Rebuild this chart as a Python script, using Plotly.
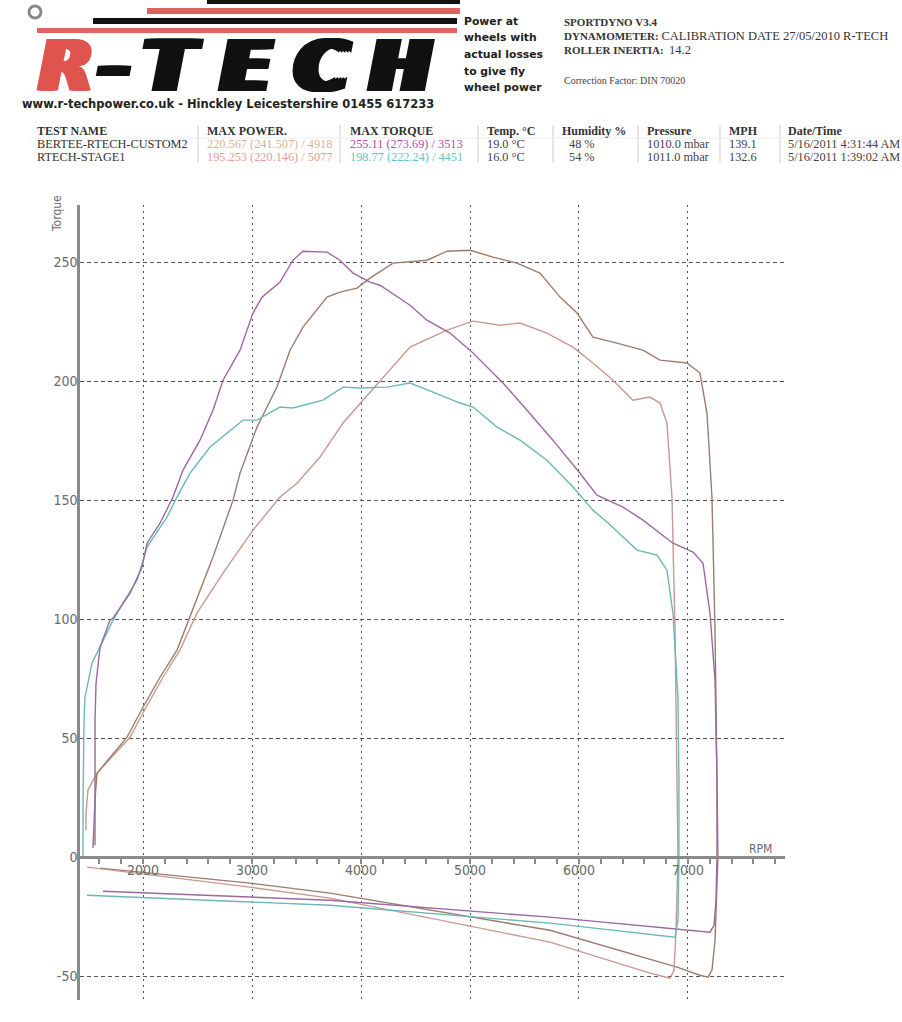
import plotly.graph_objects as go

# ---------------- data ----------------
# BERTEE-RTECH-CUSTOM2 torque (purple)
bt_rpm = [1541, 1560, 1560, 1569, 1606, 1697, 1725, 1881, 1991, 2037, 2156, 2275, 2367, 2523, 2642, 2734,
          2890, 3009, 3092, 3257, 3376, 3468, 3688, 3807, 3927, 4083, 4174, 4450, 4605, 4816, 5028, 5303,
          5523, 5761, 6009, 6165, 6404, 6587, 6862, 7046, 7138, 7202, 7248, 7266, 7266]
bt_val = [3.8, 24.0, 57.6, 73.1, 88.2, 99.6, 100.4, 110.9, 121.8, 131.9, 140.3, 151.3, 162.6, 175.2, 187.8, 200.4,
          213.0, 228.6, 235.3, 241.6, 250.8, 254.6, 254.2, 250.8, 245.4, 241.6, 240.3, 231.9, 225.6, 220.2, 211.8, 199.2,
          187.8, 175.2, 161.3, 152.1, 147.1, 141.6, 131.9, 128.2, 123.5, 102.5, 74.4, 32.4, 0.0]

# BERTEE-RTECH-CUSTOM2 power (brown)
bp_rpm = [1560, 1560, 1578, 1853, 2000, 2156, 2312, 2431, 2642, 2826, 2890, 3046, 3229, 3349, 3468, 3688,
          3807, 3963, 4083, 4294, 4605, 4789, 5000, 5211, 5431, 5642, 5826, 5982, 6128, 6312, 6587, 6743,
          6991, 7110, 7174, 7220, 7248, 7266, 7275]
bp_val = [5.0, 24.0, 35.3, 50.4, 63.0, 75.6, 87.0, 100.8, 126.1, 150.0, 161.3, 180.7, 197.5, 213.0, 222.7, 235.3,
          237.4, 239.1, 243.3, 249.6, 250.8, 254.6, 255.0, 252.1, 249.6, 245.4, 235.3, 228.6, 218.5, 216.4, 213.0, 208.8,
          207.6, 203.4, 186.6, 151.3, 95.4, 32.4, 0.0]

# RTECH-STAGE1 power (pink)
sp_rpm = [1477, 1477, 1495, 1578, 1881, 2028, 2183, 2339, 2477, 2495, 2734, 3009, 3257, 3413, 3624, 3835,
          4018, 4239, 4450, 4789, 5028, 5275, 5459, 5706, 5945, 6128, 6312, 6495, 6651, 6743, 6807, 6853,
          6881, 6899, 6908]
sp_val = [11.3, 18.5, 28.2, 35.3, 50.4, 63.0, 75.6, 87.0, 100.8, 102.5, 119.3, 137.4, 151.3, 157.1, 168.1, 182.4,
          192.0, 203.4, 214.3, 221.4, 225.2, 223.5, 224.4, 220.2, 214.3, 207.6, 200.4, 192.0, 193.3, 190.8, 182.4, 151.3,
          95.4, 32.4, 0.0]

# RTECH-STAGE1 torque (cyan)
st_rpm = [1450, 1450, 1459, 1468, 1532, 1633, 1725, 1817, 1945, 2037, 2220, 2312, 2431, 2615, 2771, 2917,
          3046, 3257, 3376, 3651, 3835, 3991, 4239, 4450, 4661, 4908, 5028, 5248, 5459, 5706, 5945, 6128,
          6257, 6532, 6716, 6807, 6862, 6908, 6917, 6917]
st_val = [0.0, 24.0, 57.6, 67.2, 81.5, 91.2, 99.6, 106.7, 116.4, 130.3, 142.9, 151.3, 161.3, 172.3, 178.2, 183.6,
          183.6, 189.1, 188.7, 192.0, 197.5, 197.1, 197.5, 199.2, 195.4, 190.8, 189.1, 180.7, 175.2, 166.8, 155.5, 145.8,
          140.8, 129.0, 126.9, 120.6, 102.5, 67.2, 32.4, 0.0]

# loss curves (below zero)
bpl_rpm = [1606, 2982, 3716, 5734, 6899, 7110, 7183, 7220, 7248, 7266, 7275]
bpl_val = [-4.6, -10.9, -15.1, -30.7, -46.2, -49.6, -50.4, -47.5, -34.9, -9.7, 0.0]
spl_rpm = [1486, 2982, 3716, 5734, 6651, 6835, 6872, 6890, 6908]
spl_val = [-4.2, -12.6, -17.2, -35.7, -48.7, -50.8, -47.5, -30.7, 0.0]
btl_rpm = [1633, 3716, 5734, 7018, 7202, 7239, 7257, 7266]
btl_val = [-14.3, -18.1, -25.2, -30.7, -31.5, -28.6, -18.1, 0.0]
stl_rpm = [1486, 3716, 5734, 6881, 6908, 6917]
stl_val = [-16.0, -20.2, -27.7, -33.6, -26.5, 0.0]

x_ticks = [2000, 3000, 4000, 5000, 6000, 7000]
y_ticks = [-50, 0, 50, 100, 150, 200, 250]

table_headers = ["TEST NAME", "MAX POWER.", "MAX TORQUE", "Temp. \u00b0C", "Humidity %", "Pressure", "MPH", "Date/Time"]
row1 = ["BERTEE-RTECH-CUSTOM2", "220.567 (241.507) / 4918", "255.11 (273.69) / 3513", "19.0 \u00b0C", "48 %",
        "1010.0 mbar", "139.1", "5/16/2011 4:31:44 AM"]
row2 = ["RTECH-STAGE1", "195.253 (220.146) / 5077", "198.77 (222.24) / 4451", "16.0 \u00b0C", "54 %",
        "1011.0 mbar", "132.6", "5/16/2011 1:39:02 AM"]

# ---------------- styling ----------------
C_PURPLE = "#9a6a9e"
C_BROWN = "#9c7c6e"
C_PINK = "#c99892"
C_CYAN = "#6cb8b5"

W, H = 902, 1022
# plot area in screen pixels
L, RR, T, B = 80, 785, 205, 1000


def px(x):
    return (x - L) / (RR - L)


def py(y):
    return (B - y) / (B - T)


fig = go.Figure()


def add_line(xs, ys, color, width=1.4):
    fig.add_trace(go.Scatter(x=xs, y=ys, mode="lines", line=dict(color=color, width=width),
                             hoverinfo="skip", showlegend=False))


add_line(bpl_rpm, bpl_val, C_BROWN)
add_line(spl_rpm, spl_val, C_PINK)
add_line(btl_rpm, btl_val, C_PURPLE)
add_line(stl_rpm, stl_val, C_CYAN)
add_line(sp_rpm, sp_val, C_PINK)
add_line(bp_rpm, bp_val, C_BROWN)
add_line(st_rpm, st_val, C_CYAN)
add_line(bt_rpm, bt_val, C_PURPLE)

YMIN, YMAX = -60, 274
axis_font = dict(family="DejaVu Sans Condensed, Liberation Sans Narrow, DejaVu Sans, sans-serif", size=14, color="#6a6a6a")

fig.update_layout(
    width=W, height=H,
    margin=dict(l=L, r=W - RR, t=T, b=H - B, pad=0),
    paper_bgcolor="white", plot_bgcolor="white",
    hovermode=False, showlegend=False,
    xaxis=dict(range=[1422, 7890], tickvals=x_ticks, ticktext=[str(v) for v in x_ticks],
               anchor="free", position=(0 - YMIN) / (YMAX - YMIN),
               showline=True, linecolor="#8a8a8a", linewidth=2.5,
               ticks="outside", ticklen=5, tickwidth=1.5, tickcolor="#8a8a8a",
               minor=dict(dtick=200, tick0=0, ticks="outside", ticklen=5, tickwidth=1.5, tickcolor="#8a8a8a", showgrid=False),
               showgrid=True, gridcolor="#555555", gridwidth=1.3, griddash="2px,4px",
               ticklabelstandoff=-6,
               zeroline=False, tickfont=axis_font, fixedrange=True),
    yaxis=dict(range=[YMIN, YMAX], tickvals=y_ticks, ticktext=[str(v) for v in y_ticks],
               showline=True, linecolor="#8a8a8a", linewidth=2.5, ticks="", ticklen=0,
               showgrid=True, gridcolor="#555555", gridwidth=1.3, griddash="4px,3px",
               ticklabelstandoff=-3,
               zeroline=False, tickfont=axis_font, fixedrange=True),
)

ann = []


def text(x, y, s, size=11, color="#222", family="Liberation Serif, Times New Roman, serif", xanchor="left", **kw):
    font = dict(size=size, color=color, family=family)
    font.update(kw.pop("font_extra", {}))
    ann.append(dict(x=px(x), y=py(y), xref="paper", yref="paper", text=s, showarrow=False,
                    xanchor=xanchor, yanchor="middle", font=font, **kw))


# axis titles
text(760, 849, "RPM", size=12, color="#6a6a6a", family=axis_font["family"], xanchor="center")
text(57, 214, "Torque", size=12, color="#6a6a6a", family=axis_font["family"], xanchor="center", textangle=-90)

# logo letters (horizontal text-shadow widens the heavy face)
logo_font = "DejaVu Sans, Liberation Sans, Arial, sans-serif"
letters = [("R", 66, "#e0544e", 2), ("-", 114, "#111111", 3), ("T", 172, "#111111", 3),
           ("E", 246, "#111111", 3), ("C", 322, "#111111", 3), ("H", 400, "#111111", 3)]
for ch, cx, col, sw in letters:
    shadow = ", ".join("%dpx 0 0 %s" % (d, col) for d in (-2 * sw, -sw, sw, 2 * sw))
    text(cx, 66, "<b><i>%s</i></b>" % ch, size=71, color=col, family=logo_font, xanchor="center",
         font_extra=dict(shadow=shadow))

text(20, 104, "<b>www.r-techpower.co.uk - Hinckley Leicestershire 01455 617233</b>", size=11.5,
     color="#222", family="DejaVu Sans, Liberation Sans, Arial, sans-serif")

for s, yy in [("Power at", 21), ("wheels with", 37), ("actual losses", 54), ("to give fly", 71), ("wheel power", 87)]:
    text(462, yy, "<b>%s</b>" % s, size=10.8, color="#222", family="DejaVu Sans, Liberation Sans, Arial, sans-serif")

text(562, 22, "<b>SPORTDYNO V3.4</b>", size=11, color="#333")
text(562, 36, "<b>DYNAMOMETER:</b> <span style='font-size:12.5px'>CALIBRATION DATE 27/05/2010 R-TECH</span>", size=11, color="#333")
text(562, 50, "<b>ROLLER INERTIA:</b>  <span style='font-size:12.5px'>14.2</span>", size=11, color="#333")
text(562, 80, "Correction Factor: DIN 70020", size=10, color="#444")

# table
col_x = [35, 205, 348, 485, 560, 645, 727, 786]
row_x = [35, 205, 348, 485, 567, 645, 727, 786]
for cx, s in zip(col_x, table_headers):
    text(cx, 131, "<b>%s</b>" % s, size=12, color="#333")
row_colors1 = ["#333", "#d4b48e", "#b04fae", "#444", "#444", "#444", "#444", "#444"]
row_colors2 = ["#333", "#e99a96", "#5fc4c4", "#444", "#444", "#444", "#444", "#444"]
for cx, s, c in zip(row_x, row1, row_colors1):
    text(cx, 144, s, size=12.3, color=c)
for cx, s, c in zip(row_x, row2, row_colors2):
    text(cx, 157, s, size=12.3, color=c)

fig.update_layout(annotations=ann)

shapes = []


def prect(x0, y0, x1, y1, color):
    shapes.append(dict(type="rect", xref="paper", yref="paper", x0=px(x0), x1=px(x1), y0=py(y1), y1=py(y0),
                       fillcolor=color, line=dict(width=0), layer="above"))


prect(207, 0, 460, 4, "#111111")
prect(147, 8, 460, 14, "#e0645e")
prect(93, 18, 457, 24, "#111111")
prect(37, 28, 457, 33, "#e0645e")
shapes.append(dict(type="circle", xref="paper", yref="paper", x0=px(29), x1=px(41), y0=py(18), y1=py(6),
                   line=dict(color="#888", width=3), fillcolor="white"))
for sx in [198, 340, 478, 553, 638, 720, 780]:
    shapes.append(dict(type="line", xref="paper", yref="paper", x0=px(sx), x1=px(sx), y0=py(163), y1=py(125),
                       line=dict(color="#cccccc", width=1)))
shapes.append(dict(type="line", xref="paper", yref="paper", x0=px(30), x1=px(900), y0=py(138), y1=py(138),
                   line=dict(color="#eeeeee", width=1)))
fig.update_layout(shapes=shapes)

fig.write_html("out.html", config={"displayModeBar": False},
               post_script="document.body.style.margin='0';document.body.style.overflow='hidden';")
